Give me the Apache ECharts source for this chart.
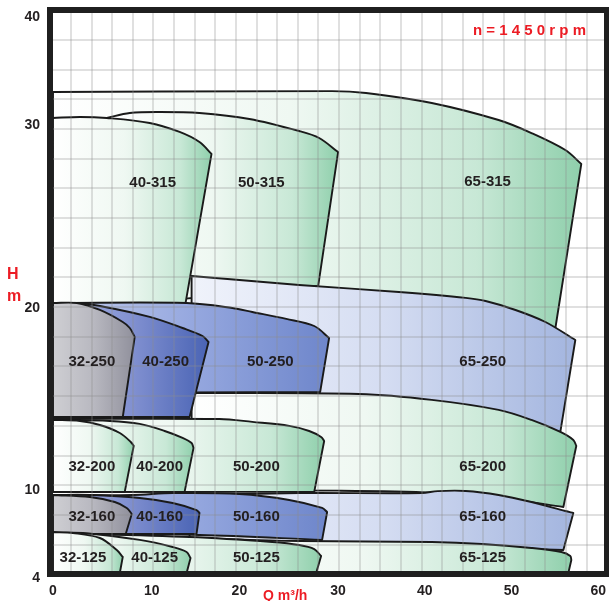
<!DOCTYPE html>
<html><head><meta charset="utf-8">
<script src="https://cdn.jsdelivr.net/npm/echarts@6/dist/echarts.min.js"></script>
<style>html,body{margin:0;padding:0;background:#fff}#c{width:609px;height:601px}</style>
</head><body><div id="c"></div>
<script>
// ---- axis ticks (Q m3/h, H m) and where they sit along each axis (0-100 %) ----
const xTicks = [0, 10, 20, 30, 40, 50, 60];
const xTickPos = [0, 18.10, 34.19, 52.29, 68.19, 84.10, 100];
const yTicks = [4, 10, 20, 30, 40];
const yTickPos = [0, 14.80, 47.24, 79.86, 100];

// ---- pump fields: upper curve (left->right) and lower boundary (right->left), [Q, H] ----
const top_65_315 = [[0,32.92],[29.39,33.0],[33.22,32.83],[40.8,31.95],[48.51,30.44],[52.3,29.56],[56.21,28.63],[58.05,27.87]];
const bot_65_315 = [[55.06,18.9],[0,19.0]];
const top_50_315 = [[5.45,30.62],[7.78,31.06],[10.91,31.15],[15.45,31.06],[21.01,30.53],[26.06,29.67],[28.08,29.29],[30,28.52]];
const bot_50_315 = [[27.98,21.2],[5.45,20.1]];
const top_40_315 = [[0,30.62],[2.73,30.71],[5.45,30.62],[9.8,30.18],[13.18,29.62],[15.45,29.07],[16.82,28.42]];
const bot_40_315 = [[13.86,20.27],[0,20.27]];

const top_65_250 = [[14.55,21.75],[26.06,21.26],[37.01,20.87],[44.71,20.55],[47.01,20.38],[50.46,19.89],[53.91,19.23],[57.36,18.24]];
const bot_65_250 = [[55.63,13.19],[45,13.8],[14.55,14.2]];
const top_50_250 = [[0,20.27],[13.98,20.27],[19.2,20],[21.31,19.78],[24.75,19.4],[27.58,19.01],[29.09,18.35]];
const bot_50_250 = [[28.18,15.38],[0,15.33]];
const top_40_250 = [[0,20.27],[2.42,20.27],[4.75,20.11],[9.8,19.51],[13.52,18.9],[15.8,18.46],[16.48,18.13]];
const bot_40_250 = [[14.32,14.01],[0,14.01]];
const top_32_250 = [[0,20.27],[2.42,20.27],[4.75,19.89],[7.07,19.23],[7.78,18.9],[8.28,18.41]];
const bot_32_250 = [[7.07,14.01],[0,14.01]];

const top_65_200 = [[14.55,15.33],[32.41,15.27],[40.8,14.95],[48.51,14.4],[52.3,13.85],[55.63,13.19],[57.13,12.75],[57.47,12.42]];
const bot_65_200 = [[55.98,8.77],[49.54,9.35],[41,9.8],[30,9.95],[14.55,9.95]];
const top_50_200 = [[0,13.9],[17.73,13.9],[21.31,13.74],[25.05,13.52],[27.07,13.24],[28.28,12.91],[28.59,12.69]];
const bot_50_200 = [[27.58,9.86],[0,9.86]];
const top_40_200 = [[0,13.85],[5.76,13.79],[8.79,13.63],[11.48,13.24],[13.52,12.86],[14.55,12.58],[14.77,12.31]];
const bot_40_200 = [[13.75,9.86],[0,9.86]];
const top_32_200 = [[0,13.85],[2.73,13.79],[4.75,13.57],[6.77,13.13],[7.88,12.64],[8.18,12.42]];
const bot_32_200 = [[7.27,9.86],[0,9.86]];

const top_65_160 = [[14.32,9.64],[26.06,9.78],[39.66,9.78],[41.5,9.92],[44.71,9.93],[48.51,9.64],[52.3,9.13],[56.21,8.48],[57.13,8.34]];
const bot_65_160 = [[55.98,5.66],[40,5.9],[14.32,6.0]];
const top_50_160 = [[0,9.64],[8.08,9.64],[12.39,9.78],[20,9.71],[25.05,9.28],[28.38,8.7],[28.89,8.41]];
const bot_50_160 = [[28.38,6.39],[15.45,6.75],[0,6.82]];
const top_40_160 = [[0,9.64],[3.74,9.64],[8.79,9.42],[12.39,9.06],[15.11,8.55],[15.45,8.34]];
const bot_40_160 = [[15.11,6.82],[0,6.82]];
const top_32_160 = [[0,9.64],[3.74,9.49],[6.26,9.13],[7.47,8.7],[7.98,8.27]];
const bot_32_160 = [[7.37,6.82],[0,6.82]];

const top_65_125 = [[14.32,6.53],[26.06,6.31],[40.8,6.24],[46.55,6.1],[52.3,5.81],[55.75,5.52],[56.78,5.23],[56.9,4.94]];
const bot_65_125 = [[56.55,4],[14.32,4]];
const top_50_125 = [[0,6.89],[14.32,6.6],[23.33,6.24],[26.06,6.02],[27.58,5.73],[28.28,5.23]];
const bot_50_125 = [[27.78,4],[0,4]];
const top_40_125 = [[0,6.89],[3.03,6.89],[8.79,6.39],[12.39,5.88],[13.98,5.52],[14.43,5.08]];
const bot_40_125 = [[13.98,4],[0,4]];
const top_32_125 = [[0,6.96],[2.02,6.89],[4.75,6.53],[6.46,5.66],[7.07,5.16]];
const bot_32_125 = [[6.77,4],[0,4]];

// drawing order, label anchors [Q, H]
const pumpNames = ['65-315','50-315','40-315','65-250','65-200','50-250','40-250','32-250','50-200','40-200','32-200','65-160','65-125','50-160','40-160','32-160','50-125','40-125','32-125'];
const labelQ = [47.24,22.22,10.11,46.67,46.67,23.13,11.59,3.94,21.72,10.91,3.94,46.67,46.67,21.72,10.91,3.94,21.72,10.34,3.03];
const labelH = [26.89,26.83,26.83,17.03,11.26,17.03,17.03,17.03,11.26,11.26,11.26,8.05,5.08,8.05,8.05,8.05,5.08,5.08,5.08];

const curves = {
  '65-315':[top_65_315,bot_65_315],'50-315':[top_50_315,bot_50_315],'40-315':[top_40_315,bot_40_315],
  '65-250':[top_65_250,bot_65_250],'50-250':[top_50_250,bot_50_250],'40-250':[top_40_250,bot_40_250],'32-250':[top_32_250,bot_32_250],
  '65-200':[top_65_200,bot_65_200],'50-200':[top_50_200,bot_50_200],'40-200':[top_40_200,bot_40_200],'32-200':[top_32_200,bot_32_200],
  '65-160':[top_65_160,bot_65_160],'50-160':[top_50_160,bot_50_160],'40-160':[top_40_160,bot_40_160],'32-160':[top_32_160,bot_32_160],
  '65-125':[top_65_125,bot_65_125],'50-125':[top_50_125,bot_50_125],'40-125':[top_40_125,bot_40_125],'32-125':[top_32_125,bot_32_125]
};

// ---- styles ----
const palettes = {
  green: [[0,'#ffffff'],[0.45,'#eff8f2'],[0.8,'#c8e8d6'],[1,'#8ecfab']],
  light: [[0,'#f0f3fb'],[0.5,'#d5ddf2'],[1,'#a3b5df']],
  mid:   [[0,'#c3cdee'],[0.5,'#96a8df'],[1,'#6e86cb']],
  dark:  [[0,'#aab6e4'],[0.5,'#8291d1'],[1,'#4963b4']],
  grey:  [[0,'#cfcfd3'],[0.5,'#b8b8c0'],[1,'#8f8f9b']]
};
function kindOf(name){
  const [a,b] = name.split('-');
  const blueFam = (b === '250' || b === '160');
  if (!blueFam) return 'green';
  return a === '65' ? 'light' : a === '50' ? 'mid' : a === '40' ? 'dark' : 'grey';
}
const RED = '#ec1c24', INK = '#231f20', FONT = '"Liberation Sans", Arial, sans-serif';

// piecewise axis placement
function interp(v, xs, ys){
  let i = 0;
  while (i < xs.length - 2 && v > xs[i+1]) i++;
  return ys[i] + (v - xs[i]) * (ys[i+1] - ys[i]) / (xs[i+1] - xs[i]);
}
const qa = q => interp(q, xTicks, xTickPos);
const ha = h => interp(h, yTicks, yTickPos);

function f(p){ return p[0].toFixed(2) + ',' + p[1].toFixed(2); }
function dist(a,b){ return Math.hypot(a[0]-b[0], a[1]-b[1]); }
function smooth(P){
  let d = '';
  for (let i = 0; i < P.length - 1; i++){
    const p0 = P[i-1] || P[i], p1 = P[i], p2 = P[i+1], p3 = P[i+2] || P[i+1];
    const d01 = dist(p0,p1), d12 = dist(p1,p2), d23 = dist(p2,p3);
    const s1 = d12 / ((d01 + d12) || 1) / 3, s2 = d12 / ((d12 + d23) || 1) / 3;
    const c1 = [p1[0] + (p2[0]-p0[0]) * s1, p1[1] + (p2[1]-p0[1]) * s1];
    const c2 = [p2[0] - (p3[0]-p1[0]) * s2, p2[1] - (p3[1]-p1[1]) * s2];
    d += ' C' + f(c1) + ' ' + f(c2) + ' ' + f(p2);
  }
  return d;
}

const chart = echarts.init(document.getElementById('c'), null, {renderer:'canvas'});
const anchors = pumpNames.map((n,i) => [qa(labelQ[i]), ha(labelH[i])]);

const tickIndex = (pos, v) => pos.findIndex(p => Math.abs(p - v) < 0.01);

chart.setOption({
  animation: false,
  backgroundColor: '#ffffff',
  title: [
    {text: 'n = 1 4 5 0 r p m', left: 473, top: 23, padding: 0,
     textStyle: {color: RED, fontSize: 15, fontWeight: 'bold', fontFamily: FONT}},
    {text: 'Q m³/h', left: 263, top: 589, padding: 0,
     textStyle: {color: RED, fontSize: 14, fontWeight: 'bold', fontFamily: FONT}},
    {text: 'H\nm', left: 7, top: 264, padding: 0,
     textStyle: {color: RED, fontSize: 16, fontWeight: 'bold', fontFamily: FONT, lineHeight: 22}}
  ],
  grid: [
    {left: 50, right: 2, top: 10, bottom: 27, show: true, z: 8,
     borderColor: '#1f1f1f', borderWidth: 6, backgroundColor: 'transparent'},
    {left: 53, right: 9, top: 12, bottom: 28}
  ],
  xAxis: [
    {gridIndex: 0, type: 'value', min: 0, max: 27, interval: 1, z: 4,
     axisLine: {show: false}, axisTick: {show: false}, axisLabel: {show: false},
     splitLine: {show: true, lineStyle: {color: 'rgba(140,140,140,0.36)', width: 1.5}}},
    {gridIndex: 1, type: 'value', min: 0, max: 100,
     axisLine: {show: false}, axisTick: {show: false}, splitLine: {show: false},
     axisLabel: {customValues: xTickPos,
       formatter: v => { const i = tickIndex(xTickPos, v); return i >= 0 ? String(xTicks[i]) : ''; },
       margin: 11, fontWeight: 'bold', fontSize: 14, color: INK, fontFamily: FONT}}
  ],
  yAxis: [
    {gridIndex: 0, type: 'value', min: 0, max: 19, interval: 1, z: 4,
     axisLine: {show: false}, axisTick: {show: false}, axisLabel: {show: false},
     splitLine: {show: true, lineStyle: {color: 'rgba(140,140,140,0.36)', width: 1.5}}},
    {gridIndex: 1, type: 'value', min: 0, max: 100,
     axisLine: {show: false}, axisTick: {show: false}, splitLine: {show: false},
     axisLabel: {customValues: yTickPos,
       formatter: v => {
         const i = tickIndex(yTickPos, v);
         if (i < 0) return '';
         if (i === 0 || i === yTicks.length - 1) return '{edge|' + yTicks[i] + '}';
         return String(yTicks[i]);
       },
       rich: {edge: {padding: [11, 0, 0, 0], fontWeight: 'bold', fontSize: 14, color: INK, fontFamily: FONT}},
       margin: 13, fontWeight: 'bold', fontSize: 14, color: INK, fontFamily: FONT}}
  ],
  series: [
    {
      type: 'custom', name: 'fields', xAxisIndex: 1, yAxisIndex: 1, z: 2,
      data: anchors,
      renderItem: function(params, api){
        const i = params.dataIndex;
        const name = pumpNames[i];
        const [top, bot] = curves[name];
        const T = top.map(p => api.coord([qa(p[0]), ha(p[1])]));
        const B = bot.map(p => api.coord([qa(p[0]), ha(p[1])]));
        const d = 'M' + f(T[0]) + smooth(T) + ' L' + f(B[0]) + smooth(B) + ' Z';
        return {
          type: 'path', z2: i,
          shape: {pathData: d},
          style: {
            fill: new echarts.graphic.LinearGradient(0, 0, 1, 0,
              palettes[kindOf(name)].map(s => ({offset: s[0], color: s[1]}))),
            stroke: '#1a1a1a', lineWidth: 1.9, lineJoin: 'round'
          }
        };
      }
    },
    {
      type: 'custom', name: 'labels', xAxisIndex: 1, yAxisIndex: 1, z: 6,
      data: anchors,
      renderItem: function(params, api){
        const i = params.dataIndex;
        const p = api.coord(anchors[i]);
        return {
          type: 'text', x: p[0], y: p[1],
          style: {text: pumpNames[i], fill: INK, font: 'bold 15px ' + FONT,
                  align: 'center', verticalAlign: 'middle'}
        };
      }
    }
  ]
});
</script>
</body></html>
